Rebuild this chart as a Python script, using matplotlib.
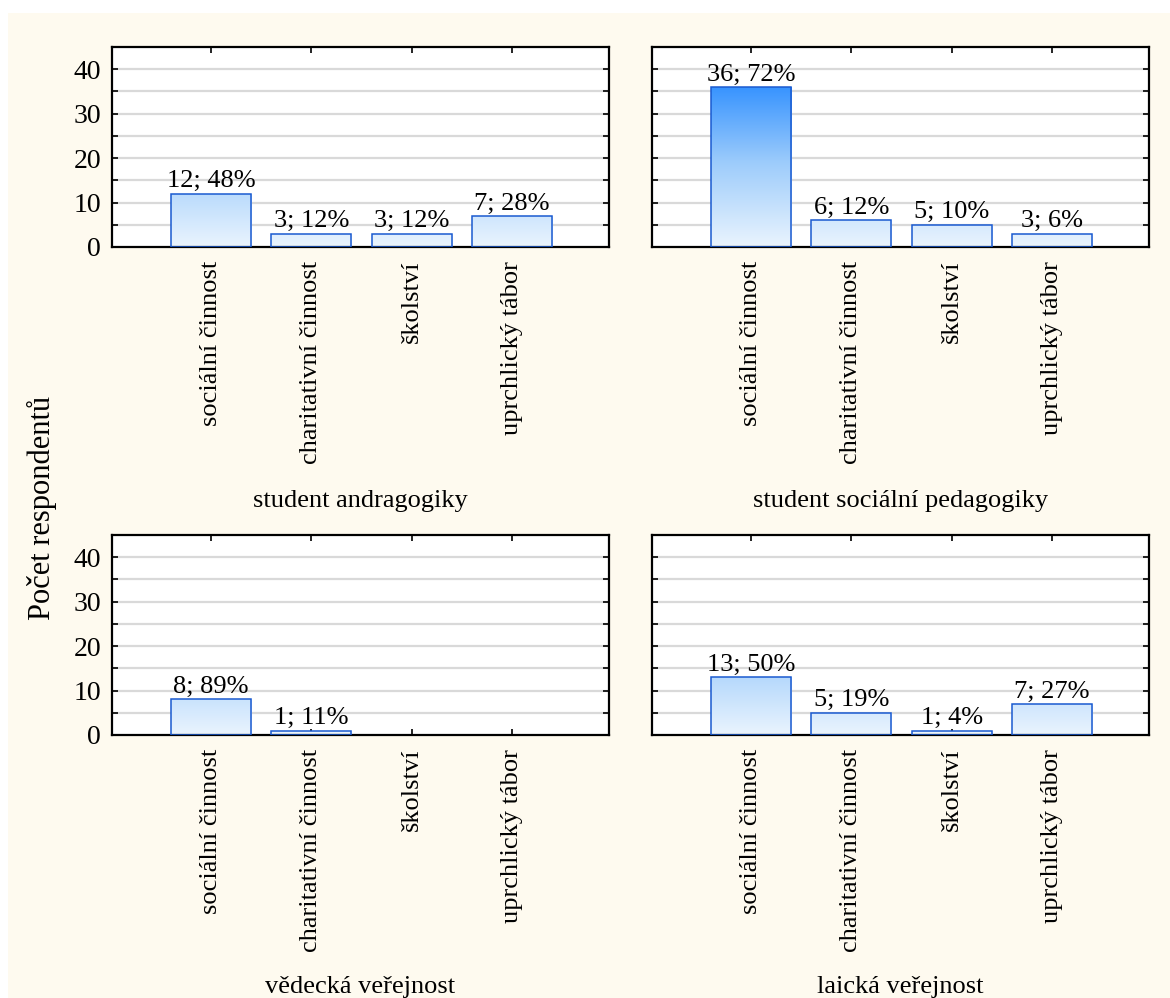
"""four-panel bar chart of respondent counts by field
"""
import numpy as np
import matplotlib
matplotlib.use('Agg')
import matplotlib.pyplot as plt
from matplotlib.colors import LinearSegmentedColormap
from matplotlib.patches import Rectangle

# data
categories = ['sociální činnost', 'charitativní činnost', 'školství', 'uprchlický tábor']
groups = ['student andragogiky', 'student sociální pedagogiky',
          'vědecká veřejnost', 'laická veřejnost']
counts_andragogika = [12, 3, 3, 7]
counts_socped = [36, 6, 5, 3]
counts_vedecka = [8, 1, 0, 0]
counts_laicka = [13, 5, 1, 7]
pct_andragogika = [48, 12, 12, 28]
pct_socped = [72, 12, 10, 6]
pct_vedecka = [89, 11, 0, 0]
pct_laicka = [50, 19, 4, 27]
y_label = 'Počet respondentů'

all_counts = [counts_andragogika, counts_socped, counts_vedecka, counts_laicka]
all_pct = [pct_andragogika, pct_socped, pct_vedecka, pct_laicka]

plt.rcParams['font.family'] = ['Liberation Serif', 'DejaVu Serif']
FS = 19

W, H = 1170, 998
fig = plt.figure(figsize=(W/100, H/100), dpi=100, facecolor='white')
# cream background with thin white margin top/left
fig.patches.append(Rectangle((8/W, 0), 1, 1 - 13/H, transform=fig.transFigure,
                             facecolor='#FEFAEF', edgecolor='none', zorder=-10))

cmap = LinearSegmentedColormap.from_list('bl', ['#EAF4FE', '#9DCCFB', '#2C8DFF'])
grad = np.linspace(0, 1, 256).reshape(-1, 1)
ymax = 45
gtop = 38.0  # value where gradient reaches full colour

lefts = [112, 652, 112, 652]
tops = [47, 47, 535, 535]
aw, ah = 497, 200
title_y = [501, 501, 987, 987]

x = np.arange(len(categories))
for i in range(4):
  ax = fig.add_axes([lefts[i]/W, 1 - (tops[i]+ah)/H, aw/W, ah/H])
  ax.set_facecolor('white')
  for g in np.arange(5, 45, 5):
    ax.axhline(g, color='#D9D9D9', lw=1.6, zorder=0)
  bars = ax.bar(x, all_counts[i], width=0.8, facecolor='none',
                edgecolor='#1A5AD0', lw=1.1, zorder=3)
  for b, c, p in zip(bars, all_counts[i], all_pct[i]):
    if c == 0:
      b.set_visible(False)
      continue
    im = ax.imshow(grad, extent=(b.get_x(), b.get_x()+b.get_width(), 0, gtop),
                   origin='lower', cmap=cmap, aspect='auto', zorder=2,
                   interpolation='bilinear')
    im.set_clip_path(b)
    ax.text(b.get_x()+b.get_width()/2, c + 0.3, '%d; %d%%' % (c, p),
            ha='center', va='bottom', fontsize=FS, zorder=4)
  ax.set_xlim(-0.99, 3.97)
  ax.set_ylim(0, ymax)
  ax.set_yticks(np.arange(0, 41, 10))
  ax.set_yticks(np.arange(5, 45, 10), minor=True)
  ax.set_xticks(x)
  ax.set_xticklabels(categories, rotation=90, fontsize=FS)
  ax.tick_params(axis='both', which='both', direction='in', length=4, width=1.2,
                 top=True, right=True)
  ax.tick_params(axis='x', pad=10, labelsize=FS)
  ax.tick_params(axis='y', pad=8, labelsize=20)
  if i % 2 == 1:
    ax.tick_params(axis='y', labelleft=False)
  for s in ax.spines.values():
    s.set_linewidth(1.6)
  fig.text((lefts[i] + aw/2)/W, 1 - title_y[i]/H, groups[i],
           ha='center', va='center', fontsize=FS)

fig.text(42/W, 1 - 508/H, y_label, rotation=90, ha='center', va='center', fontsize=22)

fig.savefig('out.png', dpi=100, facecolor='white')
